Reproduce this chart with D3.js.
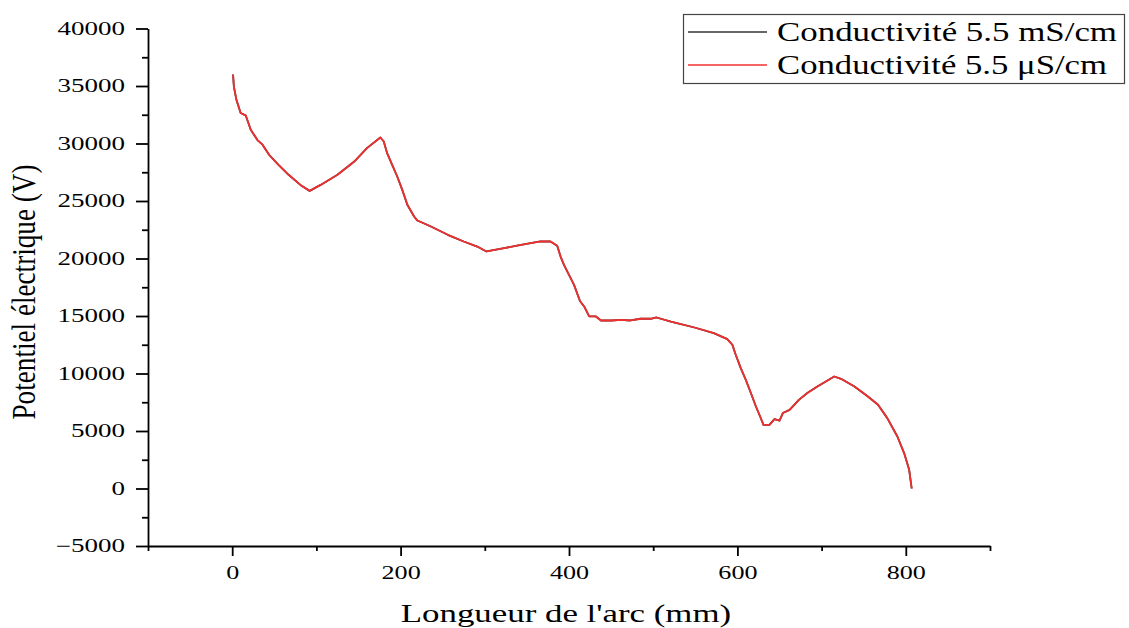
<!DOCTYPE html>
<html>
<head>
<meta charset="utf-8">
<script src="https://cdn.jsdelivr.net/npm/d3@7"></script>
<style>
  body { margin: 0; background: #fff; }
  text { font-family: "Liberation Serif", "Times New Roman", serif; fill: #000; }
</style>
</head>
<body>
<div id="wrapper"></div>
<script>
// arc length (mm) and potential (V)
const arcLength = [1, 2, 5, 10, 16, 22, 30, 36, 44, 55, 67, 81, 92, 105, 125, 145, 160, 176, 180, 184,
    190, 196, 202, 208, 216, 220, 236, 256, 275, 291, 302, 323, 343, 366, 378, 386, 390, 394, 400, 406,
    413, 418, 424, 432, 438, 450, 462, 473, 485, 497, 504, 521, 549, 572, 588, 594, 598, 604, 610, 616,
    622, 627, 631, 638, 644, 650, 654, 662, 673, 683, 695, 705, 715, 723, 739, 755, 767, 778, 790, 798,
    804, 807];
const potentialMs = [36000, 34950, 33800, 32650, 32450, 31200, 30300, 29900, 29000, 28150, 27280, 26400, 25880, 26400, 27280, 28430, 29600, 30520, 30170, 29160,
    28150, 27130, 25970, 24670, 23650, 23300, 22780, 22060, 21480, 21040, 20610, 20900, 21190, 21480, 21480, 21100, 20170, 19450, 18580, 17710,
    16300, 15830, 14960, 14960, 14610, 14610, 14670, 14610, 14760, 14760, 14870, 14520, 14000, 13510, 12990, 12500, 11630, 10470, 9450, 8300,
    7130, 6260, 5540, 5540, 6040, 5910, 6560, 6840, 7710, 8300, 8870, 9300, 9740, 9540, 8870, 8000, 7280, 6120, 4520, 3080,
    1630, 0];
// the red curve lies exactly on top of the black one in the picture
const potentialUs = potentialMs;

const seriesNames = ["Conductivité 5.5 mS/cm", "Conductivité 5.5 μS/cm"];
const seriesColors = ["#333333", "#f03030"];
const xMajorTicks = [0, 200, 400, 600, 800];
const xMinorTicks = [-100, 100, 300, 500, 700, 900];
const yMajorTicks = [-5000, 0, 5000, 10000, 15000, 20000, 25000, 30000, 35000, 40000];
const yMinorTicks = [-2500, 2500, 7500, 12500, 17500, 22500, 27500, 32500, 37500];

function buildPlot() {
    const width = 1129, height = 628;

    const svg = d3.select("#wrapper").append("svg")
        .attr("width", width)
        .attr("height", height);

    const xScaler = d3.scaleLinear().domain([-100, 900]).range([148, 990]);
    const yScaler = d3.scaleLinear().domain([-5000, 40000]).range([546, 28.5]);

    // stretch text sideways, the picture is wider than it was drawn
    const stretch = (sel, k) => sel.each(function () {
        const w = this.getComputedTextLength();
        d3.select(this).attr("textLength", w * k).attr("lengthAdjust", "spacingAndGlyphs");
    });

    // lines first, axes over them
    const line = (ys) => d3.line()
        .x((d, i) => xScaler(arcLength[i]))
        .y((d, i) => yScaler(ys[i]))(ys);

    [potentialMs, potentialUs].forEach((ys, i) => {
        svg.append("path")
            .attr("d", line(ys))
            .attr("fill", "none")
            .attr("stroke", seriesColors[i])
            .attr("stroke-width", 1.8)
            .attr("stroke-linejoin", "round");
    });

    const fmt = d3.format("d");

    // x axis
    const xAxis = svg.append("g")
        .attr("transform", `translate(0, ${yScaler(-5000)})`)
        .call(d3.axisBottom(xScaler).tickValues(xMajorTicks).tickFormat(fmt)
            .tickSize(10).tickSizeOuter(0).tickPadding(10));
    svg.append("g")
        .attr("transform", `translate(0, ${yScaler(-5000)})`)
        .call(d3.axisBottom(xScaler).tickValues(xMinorTicks).tickSize(5).tickFormat(""))
        .call(g => g.select(".domain").remove());

    // y axis
    const yAxis = svg.append("g")
        .attr("transform", `translate(${xScaler(-100)}, 0)`)
        .call(d3.axisLeft(yScaler).tickValues(yMajorTicks).tickFormat(fmt)
            .tickSize(12).tickSizeOuter(0).tickPadding(11));
    svg.append("g")
        .attr("transform", `translate(${xScaler(-100)}, 0)`)
        .call(d3.axisLeft(yScaler).tickValues(yMinorTicks).tickSize(6).tickFormat(""))
        .call(g => g.select(".domain").remove());

    svg.selectAll(".domain, .tick line")
        .attr("stroke", "#000")
        .attr("stroke-width", 1.8);
    svg.selectAll(".tick text")
        .attr("fill", "#000")
        .style("font-size", "18px")
        .style("font-family", "'Liberation Serif', serif");
    stretch(xAxis.selectAll(".tick text"), 1.45);
    stretch(yAxis.selectAll(".tick text"), 1.5);

    // axis titles
    svg.append("text")
        .attr("x", 566)
        .attr("y", 622)
        .attr("text-anchor", "middle")
        .style("font-size", "26px")
        .text("Longueur de l'arc (mm)")
        .call(s => stretch(s, 1.34));

    svg.append("text")
        .attr("transform", "translate(35, 292) rotate(-90) scale(1, 1.22)")
        .attr("text-anchor", "middle")
        .style("font-size", "27px")
        .text("Potentiel électrique (V)")
        .attr("textLength", 255)
        .attr("lengthAdjust", "spacingAndGlyphs");

    // legend
    const legend = svg.append("g");
    legend.append("rect")
        .attr("x", 683.5).attr("y", 14.5)
        .attr("width", 441).attr("height", 69)
        .attr("fill", "#fff")
        .attr("stroke", "#444")
        .attr("stroke-width", 1.2);

    const legendTextWidth = [340, 330];
    seriesNames.forEach((name, i) => {
        const yy = 32 + i * 33;
        legend.append("line")
            .attr("x1", 688).attr("x2", 767)
            .attr("y1", yy).attr("y2", yy)
            .attr("stroke", seriesColors[i])
            .attr("stroke-width", 1.5);
        legend.append("text")
            .attr("x", 777)
            .attr("y", yy + 9)
            .style("font-size", "27px")
            .text(name)
            .attr("textLength", legendTextWidth[i])
            .attr("lengthAdjust", "spacingAndGlyphs");
    });
}

buildPlot();
</script>
</body>
</html>
